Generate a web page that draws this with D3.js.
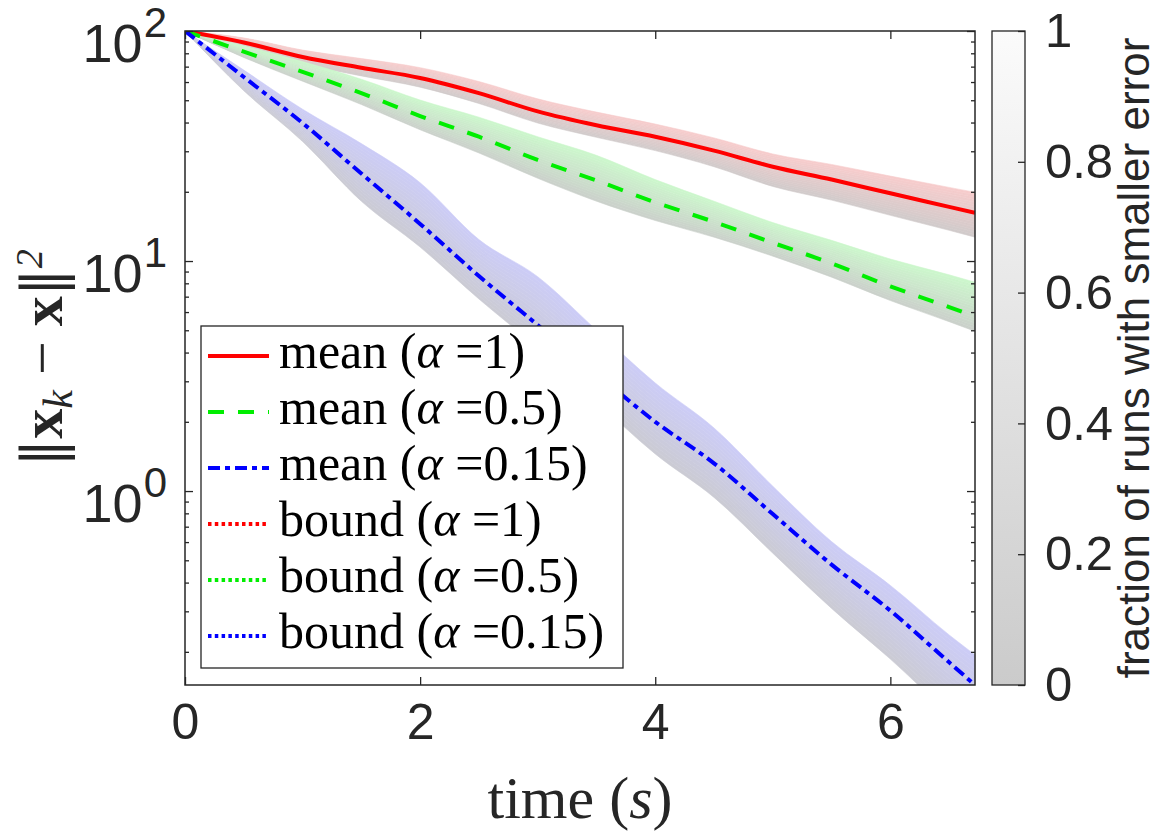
<!DOCTYPE html>
<html>
<head>
<meta charset="utf-8">
<script src="https://cdn.jsdelivr.net/npm/d3@7"></script>
<style>
  body { margin: 0; background: #fff; }
  svg { display: block; }
</style>
</head>
<body>
<svg id="convergence-view" width="1160" height="836"></svg>
<script>

// sample times (s)
const times = [0, 0.5, 1, 1.5, 2, 2.5, 3, 3.5, 4, 4.5, 5, 5.5, 6, 6.5, 6.72];

// alpha = 1
const meanA1 = [100, 89.1, 77.1, 69.2, 62.5, 53.7, 44.7, 38.9, 34.7, 30.2, 25.7, 22.6, 19.7, 17.2, 16.2];
const hiA1   = [100, 93.3, 82.6, 75.9, 69.3, 60.3, 50.7, 44.4, 39.4, 34.3, 29.2, 26.3, 23.4, 20.9, 19.9];
const loA1   = [100, 85.1, 71.9, 63.8, 57.0, 48.4, 39.8, 34.5, 30.2, 25.7, 21.1, 18.4, 15.8, 13.6, 12.7];

// alpha = 0.5
const meanA05 = [100, 81.3, 66.4, 53.7, 42.7, 34.7, 27.5, 22.4, 18.0, 14.8, 12.0, 9.77, 7.76, 6.31, 5.75];
const hiA05   = [100, 86.1, 73.6, 61.7, 50.1, 42.2, 34.7, 28.8, 22.6, 18.2, 14.7, 12.3, 10.2, 8.71, 8.09];
const loA05   = [100, 76.7, 60.5, 47.9, 37.2, 29.5, 22.9, 18.2, 15.0, 12.7, 10.5, 8.51, 6.73, 5.45, 4.95];

// alpha = 0.15
const meanA015 = [100, 63.1, 39.8, 24.0, 14.5, 8.61, 5.27, 3.24, 2.00, 1.32, 0.794, 0.479, 0.302, 0.180, 0.1435];
const hiA015   = [100, 67.6, 45.7, 32.4, 21.9, 12.4, 8.55, 5.01, 2.95, 1.88, 1.05, 0.603, 0.389, 0.237, 0.194];
const loA015   = [100, 55.0, 33.1, 18.2, 11.5, 6.84, 4.19, 2.45, 1.45, 0.938, 0.537, 0.309, 0.186, 0.108, 0.0865];

const xTicks = [0, 2, 4, 6];
const yTickExps = [0, 1, 2];
const cbarTicks = [0, 0.2, 0.4, 0.6, 0.8, 1];

const legendKinds  = ['mean', 'mean', 'mean', 'bound', 'bound', 'bound'];
const legendAlphas = ['1', '0.5', '0.15', '1', '0.5', '0.15'];


class ConvergenceView
{
  constructor()
  {
    this.box = {left: 185, right: 975, top: 31, bottom: 685};
    this.ink = '#262626';
    this.sans = "'Liberation Sans', Arial, Helvetica, sans-serif";
    this.serif = "'Liberation Serif', 'Times New Roman', serif";

    this.x = d3.scaleLinear().domain([0, 6.72]).range([this.box.left, this.box.right]);
    this.y = d3.scaleLog().domain([0.1435, 100]).range([this.box.bottom, this.box.top]);

    this.svg = d3.select('#convergence-view');

    this.series = [
      {mean: meanA1,   lo: loA1,   hi: hiA1,   color: '#ff0000', top: '#f7cccc', bottom: '#d0cbcb', dash: null},
      {mean: meanA05,  lo: loA05,  hi: hiA05,  color: '#00ee00', top: '#ccf7cc', bottom: '#cbd0cb', dash: '16,14'},
      {mean: meanA015, lo: loA015, hi: hiA015, color: '#0000ff', top: '#ccccf7', bottom: '#cbcbd3', dash: '12,5,5,5'}
    ];

    this.svg.append('defs')
      .append('clipPath')
      .attr('id', 'plot-clip')
      .append('rect')
      .attr('x', this.box.left)
      .attr('y', this.box.top)
      .attr('width', this.box.right - this.box.left)
      .attr('height', this.box.bottom - this.box.top);

    this.plot = this.svg.append('g').attr('clip-path', 'url(#plot-clip)');
  }

  draw_bands()
  {
    var strips = 18;

    this.series.forEach(s => {
      var shade = d3.interpolateRgb(s.bottom, s.top);

      for (let k = 0; k < strips; k++) {
        var f0 = k / strips, f1 = (k + 1) / strips;
        var between = (f, i) => this.y(s.lo[i]) + (this.y(s.hi[i]) - this.y(s.lo[i])) * f;

        var area = d3.area()
          .curve(d3.curveMonotoneX)
          .x((d, i) => this.x(d))
          .y0((d, i) => between(f0, i))
          .y1((d, i) => between(f1, i));

        this.plot.append('path')
          .datum(times)
          .attr('d', area)
          .attr('fill', shade((f0 + f1) / 2))
          .attr('stroke', shade((f0 + f1) / 2))
          .attr('stroke-width', 0.6);
      }
    });
  }

  draw_lines()
  {
    this.series.forEach(s => {
      var line = d3.line()
        .curve(d3.curveMonotoneX)
        .x((d, i) => this.x(times[i]))
        .y(d => this.y(d));

      this.plot.append('path')
        .datum(s.mean)
        .attr('d', line)
        .attr('fill', 'none')
        .attr('stroke', s.color)
        .attr('stroke-width', 4)
        .attr('stroke-dasharray', s.dash);
    });
  }

  draw_axes()
  {
    var b = this.box;

    var style = g => {
      g.select('.domain').remove();
      g.selectAll('line').attr('stroke', this.ink).attr('stroke-width', 1.3);
      g.attr('font-family', this.sans).attr('font-size', 50);
      g.selectAll('text').attr('fill', this.ink);
    };

    this.svg.append('g')
      .attr('transform', 'translate(0,' + b.bottom + ')')
      .call(d3.axisBottom(this.x).tickValues(xTicks).tickSizeInner(-8).tickSizeOuter(0)
        .tickPadding(18).tickFormat(d3.format('d')))
      .call(style);

    this.svg.append('g')
      .attr('transform', 'translate(0,' + b.top + ')')
      .call(d3.axisTop(this.x).tickValues(xTicks).tickSizeInner(-8).tickSizeOuter(0).tickFormat(''))
      .call(style);

    var majors = yTickExps.map(e => Math.pow(10, e));
    var minors = this.y.ticks().filter(v => !majors.some(m => Math.abs(m - v) < 1e-9));

    [['axisLeft', b.left], ['axisRight', b.right]].forEach(([kind, pos]) => {
      this.svg.append('g')
        .attr('transform', 'translate(' + pos + ',0)')
        .call(d3[kind](this.y).tickValues(majors).tickSizeInner(-8).tickSizeOuter(0).tickFormat(''))
        .call(style);

      this.svg.append('g')
        .attr('transform', 'translate(' + pos + ',0)')
        .call(d3[kind](this.y).tickValues(minors).tickSizeInner(-4).tickSizeOuter(0).tickFormat(''))
        .call(style);
    });

    // 10^e labels
    var labels = this.svg.append('g')
      .attr('font-family', this.sans)
      .attr('fill', this.ink);

    yTickExps.forEach(e => {
      var t = labels.append('text')
        .attr('x', 167)
        .attr('y', this.y(Math.pow(10, e)) + 31)
        .attr('text-anchor', 'end')
        .attr('font-size', 54);
      t.append('tspan').text('10');
      t.append('tspan').attr('dx', 1).attr('dy', -25).attr('font-size', 42).text(e);
    });

    this.svg.append('rect')
      .attr('x', b.left)
      .attr('y', b.top)
      .attr('width', b.right - b.left)
      .attr('height', b.bottom - b.top)
      .attr('fill', 'none')
      .attr('stroke', this.ink)
      .attr('stroke-width', 1.5);

    // axis titles
    var xt = this.svg.append('text')
      .attr('x', 580)
      .attr('y', 818)
      .attr('text-anchor', 'middle')
      .attr('font-family', this.serif)
      .attr('font-size', 60)
      .attr('fill', this.ink);
    xt.append('tspan').text('time (');
    xt.append('tspan').attr('font-style', 'italic').text('s');
    xt.append('tspan').text(')');

    var yt = this.svg.append('text')
      .attr('transform', 'translate(62,358) rotate(-90)')
      .attr('text-anchor', 'middle')
      .attr('font-family', this.serif)
      .attr('font-size', 60)
      .attr('fill', this.ink);
    yt.append('tspan').attr('font-family', "'DejaVu Serif', serif").attr('font-size', 56).text('\u2016');
    yt.append('tspan').attr('font-weight', 'bold').text('x');
    yt.append('tspan').attr('font-style', 'italic').attr('font-size', 42).attr('dy', 10).text('k');
    yt.append('tspan').attr('dy', -10).text(' \u2212 ');
    yt.append('tspan').attr('font-weight', 'bold').text('x');
    yt.append('tspan').attr('font-family', "'DejaVu Serif', serif").attr('font-size', 56).text('\u2016');
    yt.append('tspan').attr('font-style', 'italic').attr('font-size', 38).attr('dy', -20).text('2');
  }

  draw_colorbar()
  {
    var cb = {left: 992, right: 1025};
    var c = d3.scaleLinear().domain([0, 1]).range([this.box.bottom, this.box.top]);

    var grad = this.svg.select('defs')
      .append('linearGradient')
      .attr('id', 'cbar-grad')
      .attr('x1', 0).attr('y1', 1).attr('x2', 0).attr('y2', 0);
    grad.append('stop').attr('offset', 0).attr('stop-color', '#cbcbcb');
    grad.append('stop').attr('offset', 1).attr('stop-color', '#fbfbfb');

    this.svg.append('rect')
      .attr('x', cb.left)
      .attr('y', this.box.top)
      .attr('width', cb.right - cb.left)
      .attr('height', this.box.bottom - this.box.top)
      .attr('fill', 'url(#cbar-grad)')
      .attr('stroke', this.ink)
      .attr('stroke-width', 1.3);

    this.svg.append('g')
      .attr('transform', 'translate(' + cb.right + ',0)')
      .call(d3.axisRight(c).tickValues(cbarTicks).tickSizeInner(-7).tickSizeOuter(0)
        .tickPadding(20).tickFormat(d3.format('~g')))
      .call(g => {
        g.select('.domain').remove();
        g.selectAll('line').attr('stroke', this.ink).attr('stroke-width', 1.3);
        g.attr('font-family', this.sans).attr('font-size', 49);
        g.selectAll('text').attr('fill', this.ink);
      });

    this.svg.append('text')
      .attr('transform', 'translate(1149,' + ((this.box.top + this.box.bottom) / 2) + ') rotate(-90)')
      .attr('text-anchor', 'middle')
      .attr('font-family', this.sans)
      .attr('font-size', 44)
      .attr('fill', this.ink)
      .text('fraction of runs with smaller error');
  }

  draw_legend()
  {
    var lg = {left: 201, top: 326, right: 623, bottom: 668, row0: 356, step: 56};
    var colors = ['#ff0000', '#00ee00', '#0000ff'];
    var dashes = [null, '16,14', '12,5,5,5'];

    this.svg.append('rect')
      .attr('x', lg.left)
      .attr('y', lg.top)
      .attr('width', lg.right - lg.left)
      .attr('height', lg.bottom - lg.top)
      .attr('fill', '#fff')
      .attr('stroke', this.ink)
      .attr('stroke-width', 1.3);

    legendKinds.forEach((kind, i) => {
      var cy = lg.row0 + i * lg.step;

      this.svg.append('line')
        .attr('x1', 208).attr('x2', 269)
        .attr('y1', cy).attr('y2', cy)
        .attr('stroke', colors[i % 3])
        .attr('stroke-width', 4)
        .attr('stroke-dasharray', kind == 'bound' ? '3.5,3.3' : dashes[i % 3]);

      var t = this.svg.append('text')
        .attr('x', 279)
        .attr('y', cy + 12)
        .attr('font-family', this.serif)
        .attr('font-size', 50)
        .attr('fill', '#000');
      t.append('tspan').text(kind + ' (');
      t.append('tspan').attr('font-style', 'italic').text('\u03b1');
      t.append('tspan').text(' =' + legendAlphas[i] + ')');
    });
  }
}

var view = new ConvergenceView();
view.draw_bands();
view.draw_lines();
view.draw_axes();
view.draw_colorbar();
view.draw_legend();

</script>
</body>
</html>
